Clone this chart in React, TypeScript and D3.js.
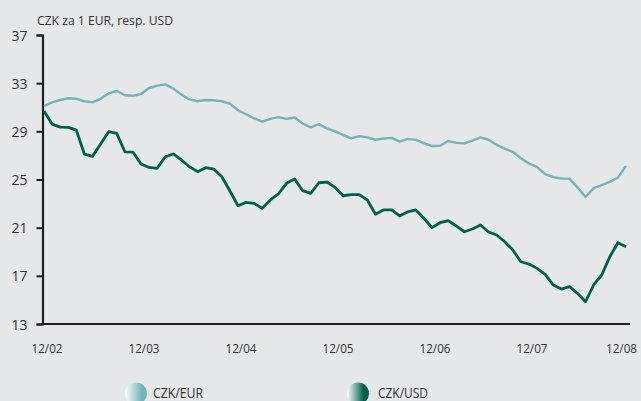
import React, { useRef, useEffect } from "react";
import * as d3 from "d3";

// monthly values, 12/2002 .. 12/2008
const czkEur = [
  31.1, 31.4, 31.6, 31.75, 31.7, 31.5, 31.4, 31.7, 32.15, 32.35,
  32.0, 31.95, 32.1, 32.6, 32.8, 32.9, 32.55, 32.05, 31.65, 31.5,
  31.6, 31.58, 31.5, 31.3, 30.75, 30.42, 30.08, 29.8, 30.03, 30.18,
  30.03, 30.15, 29.65, 29.33, 29.6, 29.25, 29.0, 28.7, 28.42, 28.6,
  28.5, 28.3, 28.4, 28.46, 28.15, 28.37, 28.29, 28.02, 27.78, 27.8,
  28.2, 28.04, 28.0, 28.22, 28.5, 28.3, 27.87, 27.56, 27.3, 26.77,
  26.33, 26.03, 25.44, 25.2, 25.07, 25.07, 24.35, 23.55, 24.28, 24.53,
  24.8, 25.15, 26.13,
];

const czkUsd = [
  30.69, 29.6, 29.35, 29.33, 29.1, 27.1, 26.92, 27.95, 28.97, 28.83,
  27.3, 27.28, 26.29, 26.0, 25.93, 26.89, 27.12, 26.62, 26.06, 25.65,
  25.98, 25.87, 25.23, 24.04, 22.82, 23.1, 23.02, 22.6, 23.3, 23.8,
  24.68, 25.04, 24.07, 23.85, 24.73, 24.79, 24.35, 23.65, 23.74, 23.74,
  23.3, 22.11, 22.47, 22.47, 21.97, 22.32, 22.47, 21.78, 21.0, 21.41,
  21.58, 21.14, 20.66, 20.89, 21.22, 20.64, 20.39, 19.83, 19.14, 18.17,
  17.98, 17.62, 17.12, 16.24, 15.9, 16.1, 15.55, 14.85, 16.24, 17.07,
  18.59, 19.75, 19.42,
];

const xLabels = ["12/02", "12/03", "12/04", "12/05", "12/06", "12/07", "12/08"];
const yTicks = [13, 17, 21, 25, 29, 33, 37];

const series = [
  { name: "CZK/EUR", values: czkEur, color: "#72b4b9", width: 2.4 },
  { name: "CZK/USD", values: czkUsd, color: "#00604e", width: 2.8 },
];

const App = () => {
  const svgRef = useRef<SVGSVGElement>(null);

  useEffect(() => {
    const svg = d3.select(svgRef.current);
    svg.selectAll("*").remove();

    const width = 641;
    const height = 401;
    const font = "'Open Sans', sans-serif";

    svg.append("rect").attr("width", width).attr("height", height).attr("fill", "#e6e7e9");

    const x = d3.scaleLinear().domain([0, czkEur.length - 1]).range([44, 626]);
    const y = d3.scaleLinear().domain([13, 37]).range([324, 35]);

    // gradients for legend dots
    const defs = svg.append("defs");
    series.forEach((s, i) => {
      const g = defs.append("linearGradient").attr("id", "lg" + i);
      g.append("stop").attr("offset", "0%").attr("stop-color", "#ffffff");
      g.append("stop").attr("offset", "75%").attr("stop-color", s.color);
    });

    // title
    svg
      .append("text")
      .attr("x", 37)
      .attr("y", 25)
      .attr("font-family", font)
      .attr("font-size", 12.5)
      .attr("fill", "#333")
      .attr("textLength", 136)
      .attr("lengthAdjust", "spacingAndGlyphs")
      .text("CZK za 1 EUR, resp. USD");

    // y axis
    const yAxis = d3.axisLeft(y).tickValues(yTicks).tickSize(6).tickPadding(9);
    const gy = svg.append("g").attr("transform", "translate(42.5,0)").call(yAxis);
    gy.select(".domain").attr("stroke", "#231f20").attr("stroke-width", 2.2);
    gy.selectAll(".tick line").attr("stroke", "#231f20").attr("stroke-width", 2);
    gy.selectAll(".tick text")
      .attr("font-family", font)
      .attr("font-size", 14)
      .attr("fill", "#333")
      .attr("dy", "0.36em");

    // x axis line
    svg
      .append("line")
      .attr("x1", 41.5)
      .attr("x2", 630)
      .attr("y1", y(13))
      .attr("y2", y(13))
      .attr("stroke", "#231f20")
      .attr("stroke-width", 2.2);

    svg
      .selectAll(".xlab")
      .data(xLabels)
      .enter()
      .append("text")
      .attr("class", "xlab")
      .attr("x", (d, i) => x(i * 12) + (i === 6 ? -4.5 : 3))
      .attr("y", 353)
      .attr("text-anchor", "middle")
      .attr("font-family", font)
      .attr("font-size", 13)
      .attr("fill", "#333")
      .attr("textLength", 31)
      .attr("lengthAdjust", "spacingAndGlyphs")
      .text((d) => d);

    // lines
    const line = d3
      .line<number>()
      .x((d, i) => x(i))
      .y((d) => y(d));

    series.forEach((s) => {
      svg
        .append("path")
        .datum(s.values)
        .attr("d", line)
        .attr("fill", "none")
        .attr("stroke", s.color)
        .attr("stroke-width", s.width)
        .attr("stroke-linejoin", "round");
    });

    // legend
    const legendX = [136, 358];
    series.forEach((s, i) => {
      svg
        .append("circle")
        .attr("cx", legendX[i])
        .attr("cy", 393.5)
        .attr("r", 11)
        .attr("fill", `url(#lg${i})`);
      svg
        .append("text")
        .attr("x", legendX[i] + (i === 0 ? 17 : 20))
        .attr("y", 398)
        .attr("font-family", font)
        .attr("font-size", 14)
        .attr("fill", "#333")
        .attr("textLength", 50)
        .attr("lengthAdjust", "spacingAndGlyphs")
        .text(s.name);
    });
  }, []);

  return (
    <div style={{ position: "absolute", left: 0, top: 0 }}>
      <svg ref={svgRef} width={641} height={401} style={{ display: "block" }}></svg>
    </div>
  );
};

export default App;
